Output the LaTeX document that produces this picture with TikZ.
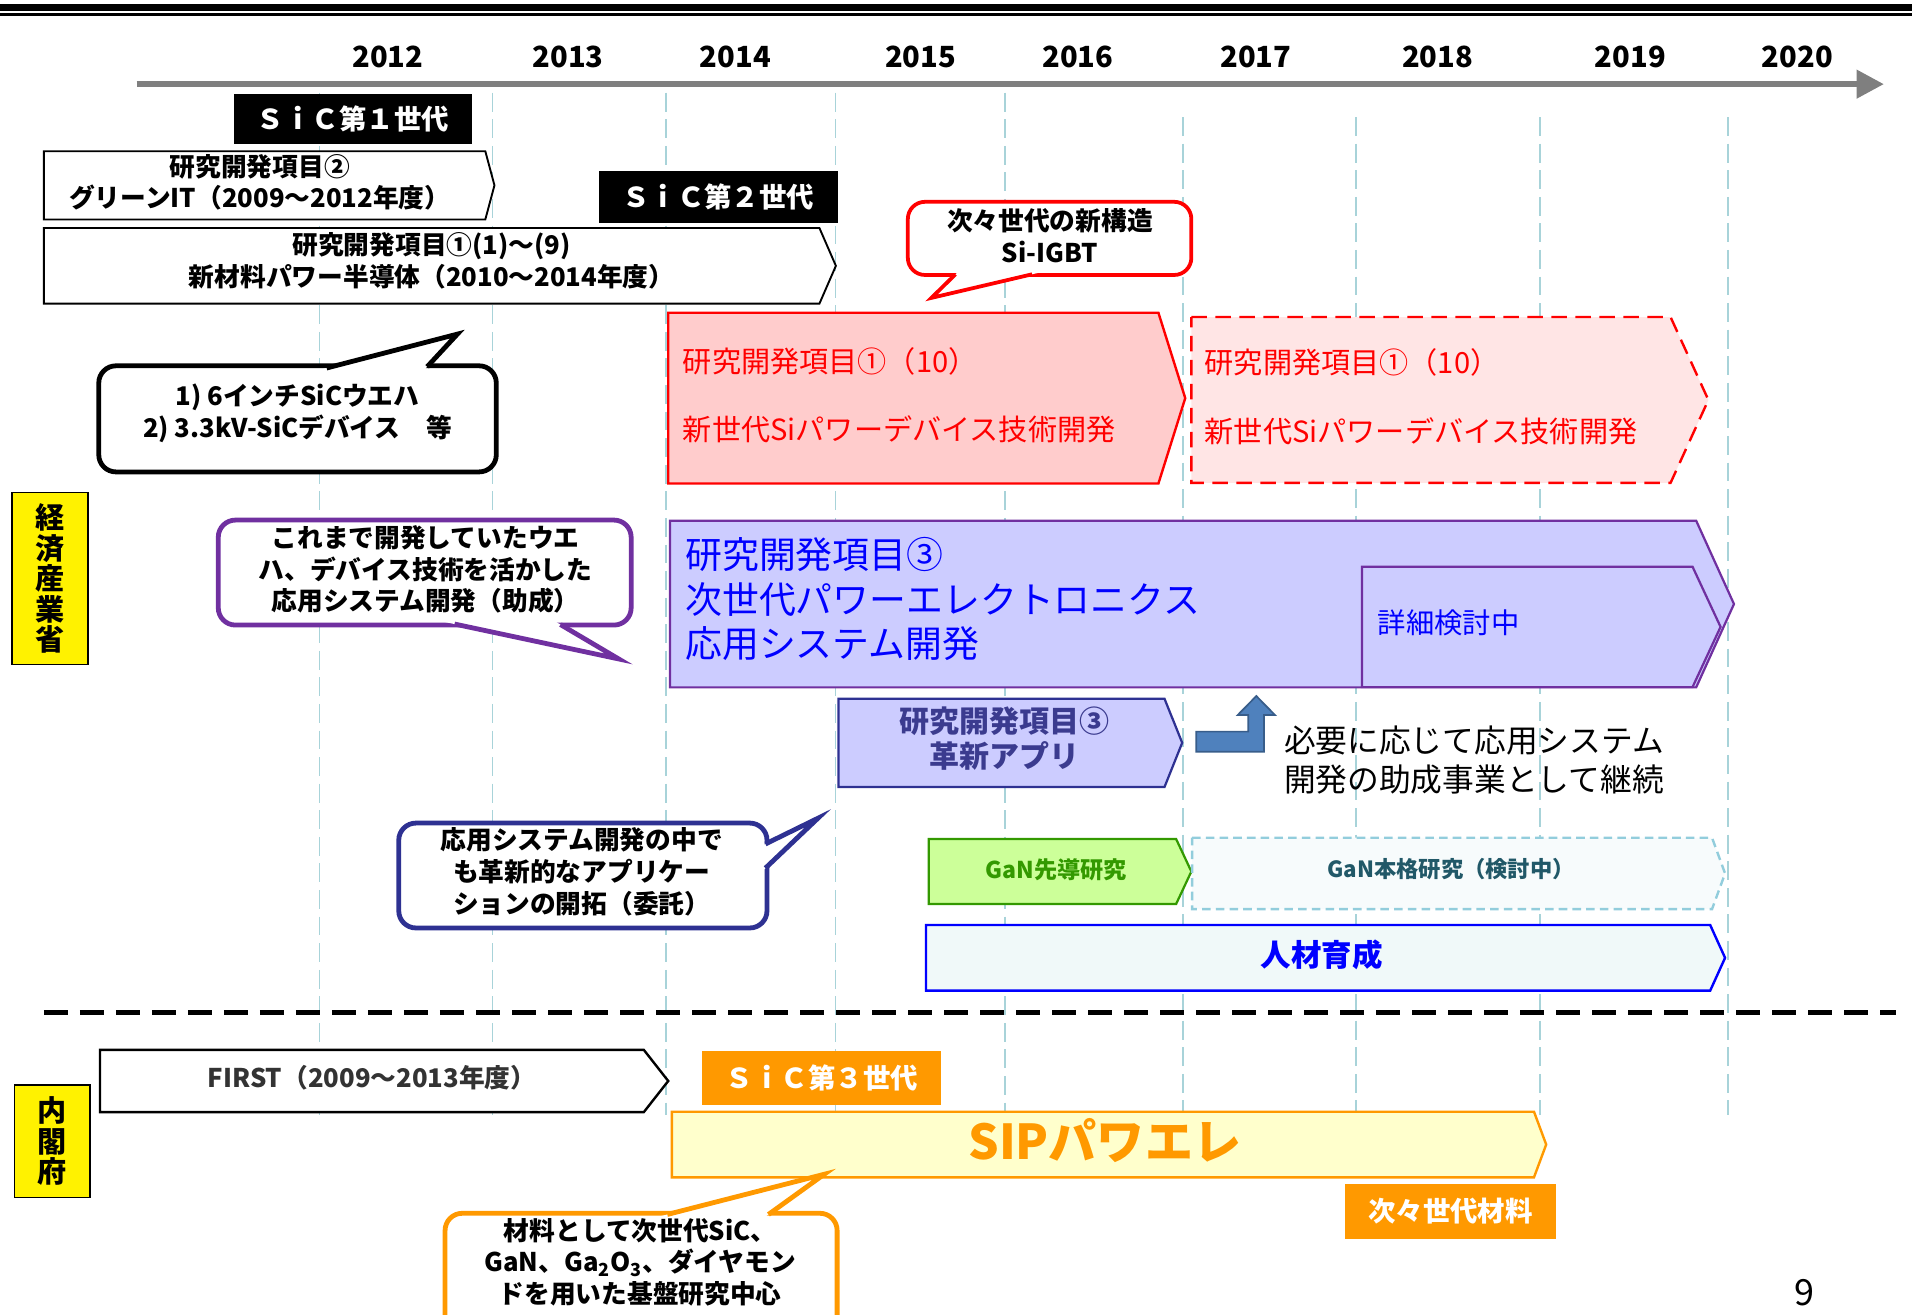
\documentclass[tikz,border=0pt]{standalone}
\usepackage{fontspec}
\setmainfont{Noto Sans CJK JP}
\usetikzlibrary{arrows.meta,calc}
\definecolor{vlinec}{HTML}{A8D3D9}
\definecolor{tlgray}{HTML}{7F7F7F}
\definecolor{pinkA}{HTML}{FFCCCC}
\definecolor{pinkB}{HTML}{FFE5E5}
\definecolor{purp}{HTML}{7030A0}
\definecolor{lav}{HTML}{CCCCFF}
\definecolor{bluetxt}{HTML}{0000FF}
\definecolor{navy}{HTML}{2E3192}
\definecolor{navytxt}{HTML}{3B3B8F}
\definecolor{grnfill}{HTML}{CCFF99}
\definecolor{grn}{HTML}{339900}
\definecolor{tealdash}{HTML}{92CDDC}
\definecolor{tealfill}{HTML}{F7FBFC}
\definecolor{tealtxt}{HTML}{215868}
\definecolor{cyanfill}{HTML}{F0F9F9}
\definecolor{orng}{HTML}{FF9900}
\definecolor{sipfill}{HTML}{FFFFCC}
\definecolor{arrblue}{HTML}{4F81BD}
\definecolor{arrblued}{HTML}{385D8A}
\definecolor{firsttxt}{HTML}{333333}

\newcommand{\pentbox}[6]{\draw[#1] (#2,#3) -- (#5,#3) -- (#6,{(#3+#4)/2}) -- (#5,#4) -- (#2,#4) -- cycle;}
\newcommand{\calloutbox}[8]{%
  \draw[#1, rounded corners=10pt] (#2,#3) rectangle (#4,#5);
  \fill[white] ($(#6)!-0.15!(#7)$) -- (#7) -- ($(#8)!-0.15!(#7)$) -- cycle;
  \draw[#1, line join=miter] ($(#6)!-0.03!(#7)$) -- (#7) -- ($(#8)!-0.03!(#7)$);}

\begin{document}
\begin{tikzpicture}[x=0.025cm,y=-0.025cm,
  every node/.style={inner sep=0pt,outer sep=0pt},
  yr/.style={font=\fontsize{17pt}{20pt}\selectfont\bfseries},
  vdash/.style={draw=vlinec, line width=0.9pt, dash pattern=on 11pt off 4.5pt},
  bl/.style={font=\fontsize{15pt}{18.5pt}\selectfont\bfseries, align=center},
  blackbox/.style={fill=black, text=white, font=\fontsize{16pt}{18pt}\selectfont\bfseries},
  orangebox/.style={fill=orng, text=white, font=\fontsize{16pt}{18pt}\selectfont\bfseries},
  yellowbox/.style={fill=yellow, draw=black, line width=1pt, minimum width=1.55cm,
     align=center, font=\fontsize{17pt}{17.8pt}\selectfont\bfseries},
  cblack/.style={draw=black, fill=white, line width=2.8pt},
  cred/.style={draw=red, fill=white, line width=2.2pt},
  cpurp/.style={draw=purp, fill=white, line width=2.8pt},
  cnavy/.style={draw=navy, fill=white, line width=2.8pt},
  corng/.style={draw=orng, fill=white, line width=2.8pt},
  redtxt/.style={text=red, anchor=west, font=\fontsize{17pt}{20pt}\selectfont},
]
\useasboundingbox (0,0) rectangle (1568,1078);

% top double rule
\coordinate (tr1L) at (0,6.1); \coordinate (tr1R) at (1568,6.1);
\coordinate (tr2L) at (0,12); \coordinate (tr2R) at (1568,12);
\draw[line width=3.9pt] (tr1L) -- (tr1R);
\draw[line width=1.6pt] (tr2L) -- (tr2R);

% vertical dashed grid lines
\foreach \x/\yt [count=\i] in {262/76,404/76,546/76,685/76,824/76,970/96,1112/96,1263/96,1417/96}{
  \coordinate (vt\i) at (\x,\yt);
  \coordinate (vb\i) at (\x,914);
  \draw[vdash] (vt\i) -- (vb\i);
}

% years
\node[yr] (y2012) at (318,47) {2012};
\node[yr] (y2013) at (466,47) {2013};
\node[yr] (y2014) at (603,47) {2014};
\node[yr] (y2015) at (755,47) {2015};
\node[yr] (y2016) at (884,47) {2016};
\node[yr] (y2017) at (1030,47) {2017};
\node[yr] (y2018) at (1179,47) {2018};
\node[yr] (y2019) at (1337,47) {2019};
\node[yr] (y2020) at (1474,47) {2020};

% timeline arrow
\coordinate (tlS) at (112,69);
\coordinate (tlE) at (1545,69);
\draw[tlgray, line width=3.6pt, -{Triangle[length=16pt,width=16pt]}] (tlS) -- (tlE);

% SiC generation labels
\node[blackbox, minimum width=4.875cm, minimum height=1.025cm] (sic1) at (289.5,97.5) {ＳｉＣ第１世代};
\node[blackbox, minimum width=4.9cm, minimum height=1.075cm] (sic2) at (589,161.5) {ＳｉＣ第２世代};

% item 2 / item 1 (1)-(9)
\pentbox{fill=white,draw=black,line width=1.1pt}{36}{124}{180}{398}{405.5}
\node[bl] (b2) at (213,149.5) {研究開発項目②\\グリーンIT（2009～2012年度）};
\pentbox{fill=white,draw=black,line width=1.1pt}{36}{187}{249}{672}{685.5}
\node[bl] (b1) at (354,214) {研究開発項目①(1)～(9)\\新材料パワー半導体（2010～2014年度）};

% red callout
\coordinate (c2L) at (783,225.5); \coordinate (c2T) at (763.8,244.3); \coordinate (c2R) at (844,225.5);
\calloutbox{cred}{744.5}{165.5}{977}{225.5}{c2L}{c2T}{c2R}
\node[bl] (c2txt) at (861,193) {次々世代の新構造\\Si-IGBT};

% black callout
\coordinate (c1L) at (271,301); \coordinate (c1T) at (375.1,274); \coordinate (c1R) at (351,300);
\calloutbox{cblack}{81}{300}{407}{387}{c1L}{c1T}{c1R}
\node[bl] (c1txt) at (244,339) {1) 6インチSiCウエハ\\2) 3.3kV-SiCデバイス　等};

% red boxes item 1 (10)
\pentbox{fill=pinkA,draw=red,line width=1.4pt}{548}{256.5}{396.5}{950}{972}
\node[redtxt] (r1a) at (560,296) {研究開発項目①（10）};
\node[redtxt] (r1b) at (560,352) {新世代Siパワーデバイス技術開発};
\pentbox{fill=pinkB,draw=red,line width=1.4pt,dash pattern=on 9pt off 5pt}{977}{260}{396}{1370}{1401}
\node[redtxt] (r2a) at (988,297) {研究開発項目①（10）};
\node[redtxt] (r2b) at (988,354) {新世代Siパワーデバイス技術開発};

% yellow ministry labels
\node[yellowbox, minimum height=3.525cm] (meti) at (41,474.5) {経\\済\\産\\業\\省};
\node[yellowbox, minimum height=2.3cm] (cao) at (43,936) {内\\閣\\府};

% purple callout
\coordinate (c3L) at (376.7,512.6); \coordinate (c3T) at (507.4,540.4); \coordinate (c3R) at (461,513);
\calloutbox{cpurp}{179}{426.5}{517.6}{512.6}{c3L}{c3T}{c3R}
\node[bl] (c3txt) at (349,467) {これまで開発していたウエ\\ハ、デバイス技術を活かした\\応用システム開発（助成）};

% item 3 big box
\pentbox{fill=lav,draw=purp,line width=1.3pt}{549.5}{427}{563.7}{1391}{1422}
\node[text=bluetxt, anchor=west, align=left, font=\fontsize{21.5pt}{26pt}\selectfont] (b3) at (562,491.5)
  {研究開発項目③\\次世代パワーエレクトロニクス\\応用システム開発};
\pentbox{fill=lav,draw=purp,line width=1.3pt}{1117}{464.7}{563.5}{1388}{1411}
\node[text=bluetxt, anchor=west, font=\fontsize{16.5pt}{19pt}\selectfont] (b3d) at (1130,511) {詳細検討中};

% item 3 innovative apps
\pentbox{fill=lav,draw=navy,line width=1.3pt}{687.6}{573}{645.4}{955}{969.5}
\node[text=navytxt, align=center, font=\fontsize{17.5pt}{20.6pt}\selectfont\bfseries] (b3a) at (824,605.5) {研究開発項目③\\革新アプリ};

% bent arrow
\draw[fill=arrblue, draw=arrblued, line width=1pt]
  (981,600) -- (1023.6,600) -- (1023.6,586.4) -- (1015,586.4) -- (1030.3,570.8)
  -- (1045.6,586.4) -- (1036.5,586.4) -- (1036.5,616.5) -- (981,616.5) -- cycle;
\node[anchor=west, align=left, font=\fontsize{18.5pt}{22.8pt}\selectfont] (cont) at (1053,623)
  {必要に応じて応用システム\\開発の助成事業として継続};

% navy callout
\coordinate (c4L) at (629,691.5); \coordinate (c4T) at (670.8,671); \coordinate (c4R) at (629,710.7);
\calloutbox{cnavy}{327}{675}{629}{761}{c4L}{c4T}{c4R}
\node[bl] (c4txt) at (477,715) {応用システム開発の中で\\も革新的なアプリケー\\ションの開拓（委託）};

% GaN
\pentbox{fill=grnfill,draw=grn,line width=1.3pt}{761.6}{688}{741.4}{964.5}{977}
\node[text=grn, font=\fontsize{13.5pt}{16pt}\selectfont\bfseries] (gan1) at (866,713) {GaN先導研究};
\pentbox{fill=tealfill,draw=tealdash,line width=1.4pt,dash pattern=on 5pt off 3pt}{977.6}{687}{745.6}{1404}{1414.7}
\node[text=tealtxt, font=\fontsize{13pt}{16pt}\selectfont\bfseries] (gan2) at (1190,713) {GaN本格研究（検討中）};

% human resources
\pentbox{fill=cyanfill,draw=bluetxt,line width=1.4pt}{759.4}{758.6}{812.4}{1402.5}{1414.7}
\node[text=bluetxt, font=\fontsize{17.8pt}{20pt}\selectfont\bfseries] (hr) at (1084,783) {人材育成};

% separator
\coordinate (sepL) at (36,830); \coordinate (sepR) at (1555,830);
\draw[line width=2.8pt, dash pattern=on 14pt off 7pt] (sepL) -- (sepR);

% FIRST
\pentbox{fill=white,draw=black,line width=1.4pt}{82}{861}{912}{528}{548}
\node[text=firsttxt, font=\fontsize{15pt}{18pt}\selectfont\bfseries] (first) at (305,884) {FIRST（2009～2013年度）};

\node[orangebox, minimum width=4.9cm, minimum height=1.1cm] (sic3) at (674,884) {ＳｉＣ第３世代};

% SIP
\pentbox{fill=sipfill,draw=orng,line width=1.4pt}{551}{911.7}{965.5}{1258}{1268}
\node[text=orng, font=\fontsize{28pt}{30pt}\selectfont\bfseries] (sip) at (906,935) {SIPパワエレ};

\node[orangebox, minimum width=4.325cm, minimum height=1.125cm] (nmat) at (1189.5,993.5) {次々世代材料};

% orange callout
\coordinate (c5L) at (551,995); \coordinate (c5T) at (675.9,963); \coordinate (c5R) at (631.5,995);
\calloutbox{corng}{365}{995}{686.5}{1110}{c5L}{c5T}{c5R}
\node[bl] (c5txt) at (525,1035) {材料として次世代SiC、\\GaN、Ga\textsubscript{2}O\textsubscript{3}、ダイヤモン\\ドを用いた基盤研究中心};

% page number
\node[font=\fontsize{21pt}{24pt}\selectfont] (pg) at (1480,1060) {9};
\end{tikzpicture}
\end{document}
